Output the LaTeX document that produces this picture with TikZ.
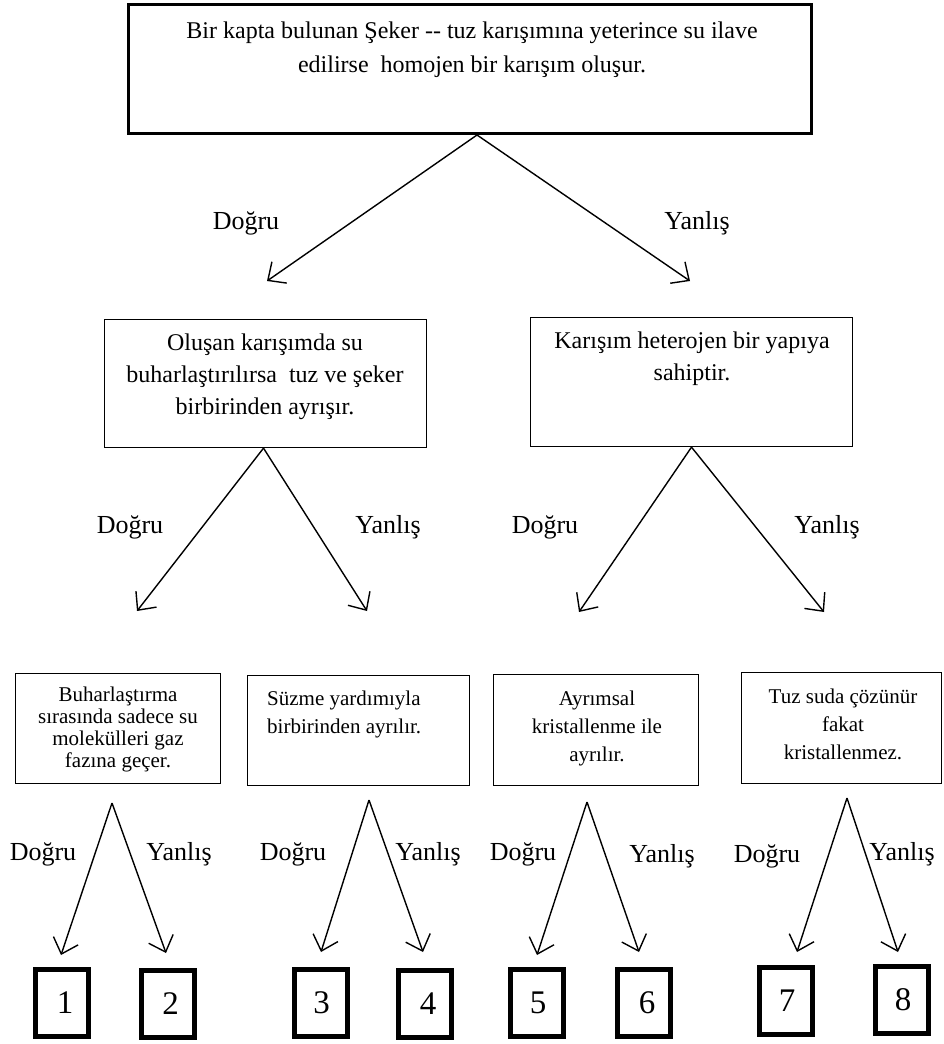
\documentclass[tikz,border=0pt]{standalone}
\usepackage{fontspec}
\setmainfont{Liberation Serif}
\usetikzlibrary{arrows.meta}
\begin{document}
\begin{tikzpicture}[x=1pt,y=-1pt,
  thinbox/.style={draw, line width=1.3pt, inner sep=0pt},
  thickbox/.style={draw, line width=3pt, inner sep=0pt},
  numbox/.style={draw, line width=5pt, minimum width=53pt, minimum height=67pt, inner sep=0pt},
  numtxt/.style={inner sep=0pt, font=\fontsize{33}{33}\selectfont},
  bigtxt/.style={inner sep=0pt, align=center, anchor=base, font=\fontsize{24}{34}\selectfont},
  midtxt/.style={inner sep=0pt, align=center, anchor=base, font=\fontsize{24}{32}\selectfont},
  smalltxt/.style={inner sep=0pt, align=center, anchor=base, font=\fontsize{21}{28}\selectfont},
  lbl/.style={inner sep=0pt, font=\fontsize{26}{26}\selectfont},
  arr/.style={line width=1.4pt, -{Straight Barb[length=14pt,width=26pt]}}
]
\useasboundingbox (0,0) rectangle (944,1044);

% boxes
\node[thickbox, minimum width=683pt, minimum height=129pt] (top) at (470,69) {};
\node[thinbox, minimum width=322pt, minimum height=128pt] (L) at (265.5,383.5) {};
\node[thinbox, minimum width=322pt, minimum height=129pt] (R) at (691.5,382) {};
\node[thinbox, minimum width=205pt, minimum height=110pt] (b1) at (118,728.5) {};
\node[thinbox, minimum width=222pt, minimum height=110pt] (b2) at (358.5,730.5) {};
\node[thinbox, minimum width=205pt, minimum height=111pt] (b3) at (596,730) {};
\node[thinbox, minimum width=200pt, minimum height=111pt] (b4) at (841.5,728) {};

% texts (anchored at the baseline of the last line)
\node[bigtxt] (topt) at (472,72) {Bir kapta bulunan Şeker {-}{-} tuz karışımına yeterince su ilave\\edilirse~ homojen bir karışım oluşur.};
\node[midtxt] (Lt) at (265,414) {Oluşan karışımda su\\buharlaştırılırsa~ tuz ve şeker\\birbirinden ayrışır.};
\node[midtxt] (Rt) at (692,380) {Karışım heterojen bir yapıya\\sahiptir.};
\node[smalltxt, font=\fontsize{21}{22}\selectfont] (b1t) at (118,767) {Buharlaştırma\\sırasında sadece su\\molekülleri gaz\\fazına geçer.};
\node[smalltxt, align=left, anchor=base west] (b2t) at (267,733) {Süzme yardımıyla\\birbirinden ayrılır.};
\node[smalltxt] (b3t) at (597,761) {Ayrımsal\\kristallenme ile\\ayrılır.};
\node[smalltxt] (b4t) at (843,759) {Tuz suda çözünür\\fakat\\kristallenmez.};

% number boxes
\node[numbox] (n1) at (62,1003) {};
\node[numbox] (n2) at (167.5,1004) {};
\node[numbox] (n3) at (320.5,1003) {};
\node[numbox] (n4) at (425,1004) {};
\node[numbox] (n5) at (537,1003) {};
\node[numbox] (n6) at (644,1003) {};
\node[numbox] (n7) at (786,1001) {};
\node[numbox] (n8) at (902,1000) {};
\node[numtxt] at ([xshift=3pt]n1.center) {1};
\node[numtxt] at ([xshift=3pt]n2.center) {2};
\node[numtxt] at ([xshift=1pt]n3.center) {3};
\node[numtxt] at ([xshift=3pt]n4.center) {4};
\node[numtxt] at ([xshift=1pt]n5.center) {5};
\node[numtxt] at ([xshift=3pt]n6.center) {6};
\node[numtxt] at ([xshift=1pt]n7.center) {7};
\node[numtxt] at ([xshift=1pt]n8.center) {8};

% end points
\coordinate (tL) at (267,281);
\coordinate (tR) at (690,281);
\coordinate (LL) at (137,611);
\coordinate (LR) at (367,611);
\coordinate (RL) at (579,612);
\coordinate (RR) at (824,612);
\coordinate (a1) at (112,803);
\coordinate (a2) at (369,800);
\coordinate (a3) at (587,802);
\coordinate (a4) at (847,798);
\coordinate (e1) at (61,955);
\coordinate (e2) at (166,953);
\coordinate (e3) at (321,952);
\coordinate (e4) at (423,952);
\coordinate (e5) at (537,955);
\coordinate (e6) at (639,952);
\coordinate (e7) at (797,952);
\coordinate (e8) at (898,952);

% arrows
\draw[arr] ([xshift=7pt]top.south) -- (tL);
\draw[arr] ([xshift=7pt]top.south) -- (tR);
\draw[arr] ([xshift=-2pt]L.south) -- (LL);
\draw[arr] ([xshift=-2pt]L.south) -- (LR);
\draw[arr] (R.south) -- (RL);
\draw[arr] (R.south) -- (RR);
\draw[arr] (a1) -- (e1);
\draw[arr] (a1) -- (e2);
\draw[arr] (a2) -- (e3);
\draw[arr] (a2) -- (e4);
\draw[arr] (a3) -- (e5);
\draw[arr] (a3) -- (e6);
\draw[arr] (a4) -- (e7);
\draw[arr] (a4) -- (e8);

% labels
\node[lbl] (d0) at (246,223) {Doğru};
\node[lbl] (y0) at (697,223) {Yanlış};
\node[lbl] (d1) at (130,527) {Doğru};
\node[lbl] (y1) at (388,527) {Yanlış};
\node[lbl] (d2) at (545,527) {Doğru};
\node[lbl] (y2) at (827,527) {Yanlış};
\node[lbl] (d3) at (43,854) {Doğru};
\node[lbl] (y3) at (179,854) {Yanlış};
\node[lbl] (d4) at (293,854) {Doğru};
\node[lbl] (y4) at (428,854) {Yanlış};
\node[lbl] (d5) at (523,854) {Doğru};
\node[lbl] (y5) at (662,856) {Yanlış};
\node[lbl] (d6) at (767,856) {Doğru};
\node[lbl] (y6) at (902,854) {Yanlış};
\end{tikzpicture}
\end{document}
